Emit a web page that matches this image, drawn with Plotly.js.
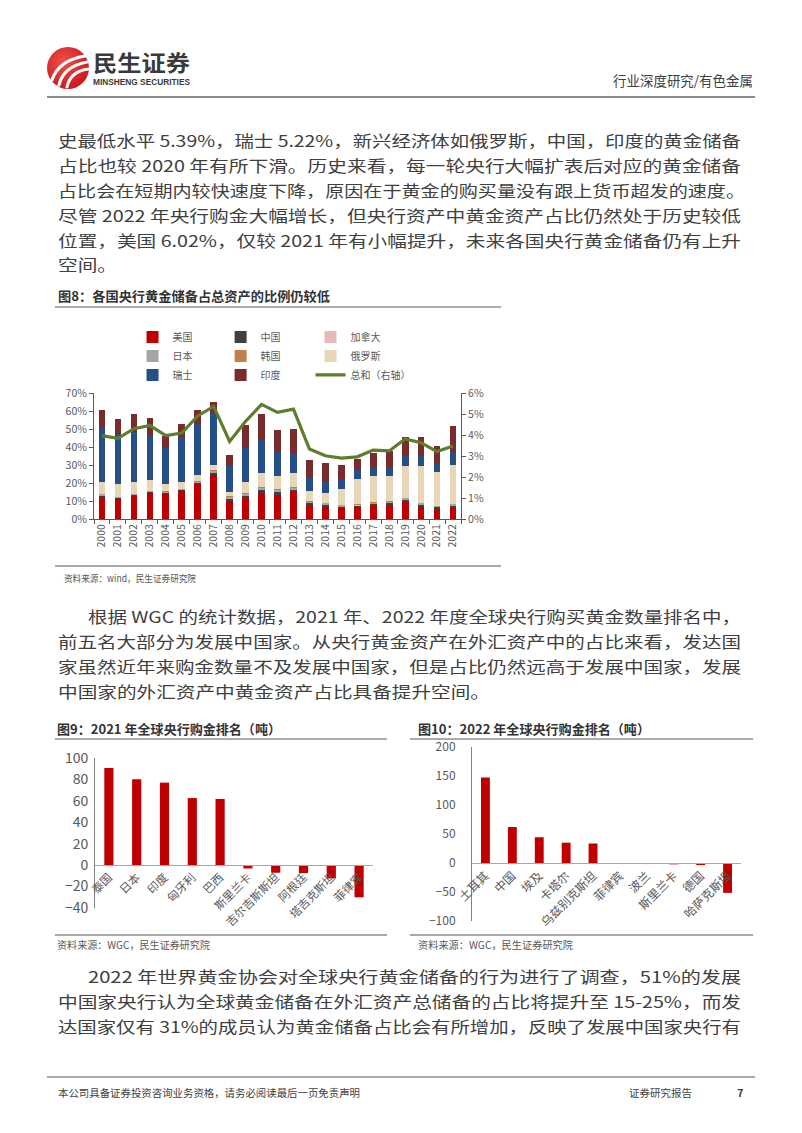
<!DOCTYPE html>
<html><head><meta charset="utf-8">
<script src="https://cdn.plot.ly/plotly-3.0.1.min.js"></script>
<style>
html,body{margin:0;padding:0;background:#fff;}
#page{position:relative;width:802px;height:1133px;overflow:hidden;background:#fff;}
#bg{position:absolute;left:0;top:0;}
.chart{position:absolute;}
svg text{font-family:"Noto Sans CJK SC","Noto Sans",sans-serif;}
</style></head><body>
<div id="page">
<svg id="bg" width="802" height="1133" xmlns="http://www.w3.org/2000/svg">
  <defs>
    <radialGradient id="lg" cx="40%" cy="35%" r="70%">
      <stop offset="0%" stop-color="#F0504A"/>
      <stop offset="100%" stop-color="#C8161D"/>
    </radialGradient>
  </defs>
  <!-- logo -->
  <circle cx="68" cy="68" r="21" fill="url(#lg)"/>
  <path d="M52,80 C56,68 66,59 85,56" stroke="#fff" stroke-width="3.2" fill="none" stroke-linecap="round"/>
  <path d="M59,85 C62,72 71,65 87,62" stroke="#fff" stroke-width="3.2" fill="none" stroke-linecap="round"/>
  <path d="M67,87 C69,77 75,71 88,69" stroke="#fff" stroke-width="3" fill="none" stroke-linecap="round"/>
  <text x="93" y="71" font-size="22" font-weight="700" fill="#3A3A3A" textLength="97" lengthAdjust="spacingAndGlyphs">民生证券</text>
  <text x="93" y="85" font-size="8.5" font-weight="700" fill="#3A3A3A" textLength="97" lengthAdjust="spacingAndGlyphs" style="font-family:'Liberation Sans',Arial,sans-serif">MINSHENG SECURITIES</text>
  <text x="613" y="86" font-size="13.5" fill="#404040" textLength="140" lengthAdjust="spacingAndGlyphs">行业深度研究/有色金属</text>
  <line x1="47" y1="97" x2="755" y2="97" stroke="#8C8C8C" stroke-width="2"/>

  <!-- paragraph 1 -->
  <g font-size="15.5" fill="#404040">
    <text x="58" y="147" textLength="683" lengthAdjust="spacingAndGlyphs">史最低水平 5.39%，瑞士 5.22%，新兴经济体如俄罗斯，中国，印度的黄金储备</text>
    <text x="58" y="172" textLength="683" lengthAdjust="spacingAndGlyphs">占比也较 2020 年有所下滑。历史来看，每一轮央行大幅扩表后对应的黄金储备</text>
    <text x="58" y="197" textLength="687" lengthAdjust="spacingAndGlyphs">占比会在短期内较快速度下降，原因在于黄金的购买量没有跟上货币超发的速度。</text>
    <text x="58" y="222" textLength="683" lengthAdjust="spacingAndGlyphs">尽管 2022 年央行购金大幅增长，但央行资产中黄金资产占比仍然处于历史较低</text>
    <text x="58" y="247" textLength="683" lengthAdjust="spacingAndGlyphs">位置，美国 6.02%，仅较 2021 年有小幅提升，未来各国央行黄金储备仍有上升</text>
    <text x="58" y="271" textLength="59" lengthAdjust="spacingAndGlyphs">空间。</text>
  </g>

  <!-- figure 8 frame -->
  <text x="58" y="301" font-size="13" font-weight="700" fill="#333333" textLength="272" lengthAdjust="spacingAndGlyphs">图8：各国央行黄金储备占总资产的比例仍较低</text>
  <line x1="55" y1="307" x2="501" y2="307" stroke="#595959" stroke-width="1.2"/>
  <line x1="55" y1="566" x2="501" y2="566" stroke="#8C8C8C" stroke-width="1.5"/>
  <text x="64" y="582" font-size="9.5" fill="#595959" textLength="132" lengthAdjust="spacingAndGlyphs">资料来源：wind，民生证券研究院</text>

  <!-- paragraph 2 -->
  <g font-size="15.5" fill="#404040">
    <text x="88" y="623" textLength="653" lengthAdjust="spacingAndGlyphs">根据 WGC 的统计数据，2021 年、2022 年度全球央行购买黄金数量排名中，</text>
    <text x="58" y="648" textLength="683" lengthAdjust="spacingAndGlyphs">前五名大部分为发展中国家。从央行黄金资产在外汇资产中的占比来看，发达国</text>
    <text x="58" y="673" textLength="683" lengthAdjust="spacingAndGlyphs">家虽然近年来购金数量不及发展中国家，但是占比仍然远高于发展中国家，发展</text>
    <text x="58" y="698" textLength="432" lengthAdjust="spacingAndGlyphs">中国家的外汇资产中黄金资产占比具备提升空间。</text>
  </g>

  <!-- figure 9 / 10 frames -->
  <text x="57" y="734" font-size="13" font-weight="700" fill="#333333" textLength="224" lengthAdjust="spacingAndGlyphs">图9：2021 年全球央行购金排名（吨）</text>
  <line x1="55" y1="739" x2="387" y2="739" stroke="#595959" stroke-width="1.2"/>
  <line x1="55" y1="935" x2="387" y2="935" stroke="#8C8C8C" stroke-width="1.5"/>
  <text x="57" y="949" font-size="10" fill="#595959" textLength="153" lengthAdjust="spacingAndGlyphs">资料来源：WGC，民生证券研究院</text>

  <text x="418" y="734" font-size="13" font-weight="700" fill="#333333" textLength="232" lengthAdjust="spacingAndGlyphs">图10：2022 年全球央行购金排名（吨）</text>
  <line x1="410" y1="739" x2="753" y2="739" stroke="#595959" stroke-width="1.2"/>
  <line x1="410" y1="935" x2="753" y2="935" stroke="#8C8C8C" stroke-width="1.5"/>
  <text x="418" y="949" font-size="10" fill="#595959" textLength="155" lengthAdjust="spacingAndGlyphs">资料来源：WGC，民生证券研究院</text>

  <!-- paragraph 3 -->
  <g font-size="15.5" fill="#404040">
    <text x="88" y="983" textLength="653" lengthAdjust="spacingAndGlyphs">2022 年世界黄金协会对全球央行黄金储备的行为进行了调查，51%的发展</text>
    <text x="58" y="1008" textLength="683" lengthAdjust="spacingAndGlyphs">中国家央行认为全球黄金储备在外汇资产总储备的占比将提升至 15-25%，而发</text>
    <text x="58" y="1033" textLength="683" lengthAdjust="spacingAndGlyphs">达国家仅有 31%的成员认为黄金储备占比会有所增加，反映了发展中国家央行有</text>
  </g>

  <!-- footer -->
  <line x1="47" y1="1077" x2="755" y2="1077" stroke="#8C8C8C" stroke-width="1.5"/>
  <text x="58" y="1097" font-size="10.5" fill="#404040" textLength="302" lengthAdjust="spacingAndGlyphs">本公司具备证券投资咨询业务资格，请务必阅读最后一页免责声明</text>
  <text x="629" y="1097" font-size="10.5" fill="#404040" textLength="63" lengthAdjust="spacingAndGlyphs">证券研究报告</text>
  <text x="737" y="1097" font-size="11" font-weight="700" fill="#404040">7</text>
</svg>
<div id="c8" class="chart" style="left:0;top:310px;width:520px;height:260px"></div>
<div id="c9" class="chart" style="left:40px;top:745px;width:350px;height:190px"></div>
<div id="c10" class="chart" style="left:410px;top:735px;width:350px;height:200px"></div>
</div>
<script>
// ---------- Figure 8 data (% of total assets) ----------
const years = ['2000','2001','2002','2003','2004','2005','2006','2007','2008','2009','2010','2011','2012','2013','2014','2015','2016','2017','2018','2019','2020','2021','2022'];
const usa    = [12.2,10.9,12.6,14.4,14.2,15.6,19.3,24.6,10.1,12.1,14.7,13.5,15.0,7.8,6.9,6.1,6.8,7.2,7.8,9.5,6.9,5.4,5.9];
const china  = [0.6,0.5,0.5,0.4,0.4,0.4,0.6,0.9,1.0,0.9,1.3,1.3,1.2,0.9,0.9,0.8,0.7,1.0,1.0,1.2,1.1,1.1,1.4];
const canada = [0.1,0.1,0.1,0.1,0.05,0.05,0.05,0.05,0.05,0.05,0.05,0.05,0.05,0.02,0.02,0.01,0.01,0.01,0.01,0.01,0.01,0.01,0.01];
const japan  = [0.9,0.6,0.7,0.6,0.5,0.6,0.8,1.3,1.2,1.0,1.4,1.3,1.2,0.8,0.9,0.6,0.5,0.8,0.7,0.8,0.7,0.7,0.9];
const korea  = [0.2,0.2,0.2,0.2,0.15,0.15,0.25,0.35,0.35,0.25,0.35,0.35,0.35,0.28,0.28,0.19,0.19,0.29,0.29,0.29,0.29,0.29,0.29];
const russia = [6.6,7.1,6.7,5.8,4.3,4.0,3.2,2.8,2.1,6.1,7.9,7.3,7.9,5.8,5.3,8.8,13.9,14.5,14.0,17.8,20.6,18.5,21.4];
const swiss  = [30.4,27.6,27.5,24.4,19.9,24.5,28.5,29.1,14.7,19.1,18.1,13.4,10.3,7.4,6.2,5.6,5.1,5.2,5.2,5.5,5.6,5.2,7.1];
const india  = [9.4,8.6,9.9,10.0,6.7,7.4,8.1,5.9,6.3,12.7,14.7,12.3,14.2,9.9,10.5,7.7,5.9,7.8,8.6,10.5,10.4,9.6,14.5];
const total  = [3.97,3.84,4.30,4.45,3.97,4.09,4.91,5.36,3.69,4.65,5.46,5.08,5.23,3.33,3.01,2.90,2.96,3.28,3.24,3.81,3.63,3.21,3.48];

// ---------- Figure 9 / 10 data (tonnes) ----------
const cats2021 = ['泰国','日本','印度','匈牙利','巴西','斯里兰卡','吉尔吉斯斯坦','阿根廷','塔吉克斯坦','菲律宾'];
const vals2021 = [90.6,80.2,77.0,62.6,61.8,-3.1,-7.1,-7.4,-12.4,-30.0];
const cats2022 = ['土耳其','中国','埃及','卡塔尔','乌兹别克斯坦','菲律宾','波兰','斯里兰卡','德国','哈萨克斯坦'];
const vals2022 = [147.6,62.0,44.4,35.0,33.6,-1.6,-1.8,-2.3,-3.6,-51.5];

const FONT = 'Noto Sans CJK SC, Noto Sans, sans-serif';
const AX = '#595959';

function bar(name, y, color, lg){
  return {type:'bar', x:years, y:y, name:name, marker:{color:color, line:{width:0}}, legend:lg, hoverinfo:'none'};
}
const traces8 = [
  bar('美国', usa, '#C00000', 'legend'),
  bar('中国', china, '#404040', 'legend2'),
  bar('加拿大', canada, '#E6B9B8', 'legend3'),
  bar('日本', japan, '#A6A6A6', 'legend'),
  bar('韩国', korea, '#C0804D', 'legend2'),
  bar('俄罗斯', russia, '#E9D6B7', 'legend3'),
  bar('瑞士', swiss, '#254F85', 'legend'),
  bar('印度', india, '#7A2B2B', 'legend2'),
  {type:'scatter', mode:'lines', x:years, y:total, yaxis:'y2', name:'总和（右轴）',
   line:{color:'#5E7D2D', width:3.2}, legend:'legend3', hoverinfo:'none'}
];
function lgd(x){
  return {x:x, y:1.56, xref:'paper', yref:'paper', xanchor:'left', yanchor:'top', orientation:'v',
          traceorder:'normal', font:{size:10, color:AX, family:FONT}, bgcolor:'rgba(0,0,0,0)', borderwidth:0};
}
const layout8 = {
  width:520, height:260, margin:{l:93.5, r:58.5, t:76.7, b:51.3, pad:0},
  barmode:'stack', bargap:0.58,
  paper_bgcolor:'rgba(0,0,0,0)', plot_bgcolor:'rgba(0,0,0,0)',
  font:{family:FONT, size:10, color:AX},
  showlegend:true,
  legend:lgd(0.105), legend2:lgd(0.345), legend3:lgd(0.59),
  xaxis:{type:'category', tickson:'boundaries', ticks:'outside', ticklen:4, tickcolor:AX,
         showline:true, linecolor:AX, linewidth:1, tickangle:-90, tickfont:{size:10.5, color:AX},
         showgrid:false, zeroline:false, automargin:false},
  yaxis:{range:[0,70], dtick:10, ticksuffix:'%', showline:true, linecolor:AX, ticks:'outside', ticklen:4,
         tickcolor:AX, showgrid:false, zeroline:false, tickfont:{size:10.5, color:AX}, automargin:false},
  yaxis2:{overlaying:'y', side:'right', range:[0,6], dtick:1, ticksuffix:'%', showline:true, linecolor:AX,
          ticks:'outside', ticklen:4, tickcolor:AX, showgrid:false, zeroline:false,
          tickfont:{size:10.5, color:AX}, automargin:false}
};
Plotly.newPlot('c8', traces8, layout8, {staticPlot:true, displayModeBar:false});

function rankChart(id, cats, vals, w, h, m, yr, dt, zeroPos, tickSize, catSize, standoff){
  const tr = [{type:'bar', x:cats, y:vals, marker:{color:'#C00000', line:{width:0}}, hoverinfo:'none'}];
  const lay = {
    width:w, height:h, margin:m, bargap:0.67, showlegend:false,
    paper_bgcolor:'rgba(0,0,0,0)', plot_bgcolor:'rgba(0,0,0,0)',
    font:{family:FONT, color:AX},
    xaxis:{type:'category', anchor:'free', position:zeroPos, showline:true, linecolor:'#A6A6A6', linewidth:1,
           ticks:'', tickangle:-45, tickfont:{size:catSize, color:AX}, showgrid:false, zeroline:false, automargin:false},
    yaxis:{range:yr, dtick:dt, showline:true, linecolor:'#808080', ticks:'', showgrid:false, zeroline:false,
           tickfont:{size:tickSize, color:AX}, automargin:false, ticklabelstandoff:standoff}
  };
  Plotly.newPlot(id, tr, lay, {staticPlot:true, displayModeBar:false});
}
rankChart('c9', cats2021, vals2021, 350, 190, {l:55, r:17, t:13.3, b:26.7, pad:0}, [-40,100], 20, 40/140, 14, 11.5, 3);
rankChart('c10', cats2022, vals2022, 350, 200, {l:61.7, r:19, t:12.3, b:14, pad:0}, [-100,200], 50, 100/300, 12, 12, 13);
</script>
</body></html>
